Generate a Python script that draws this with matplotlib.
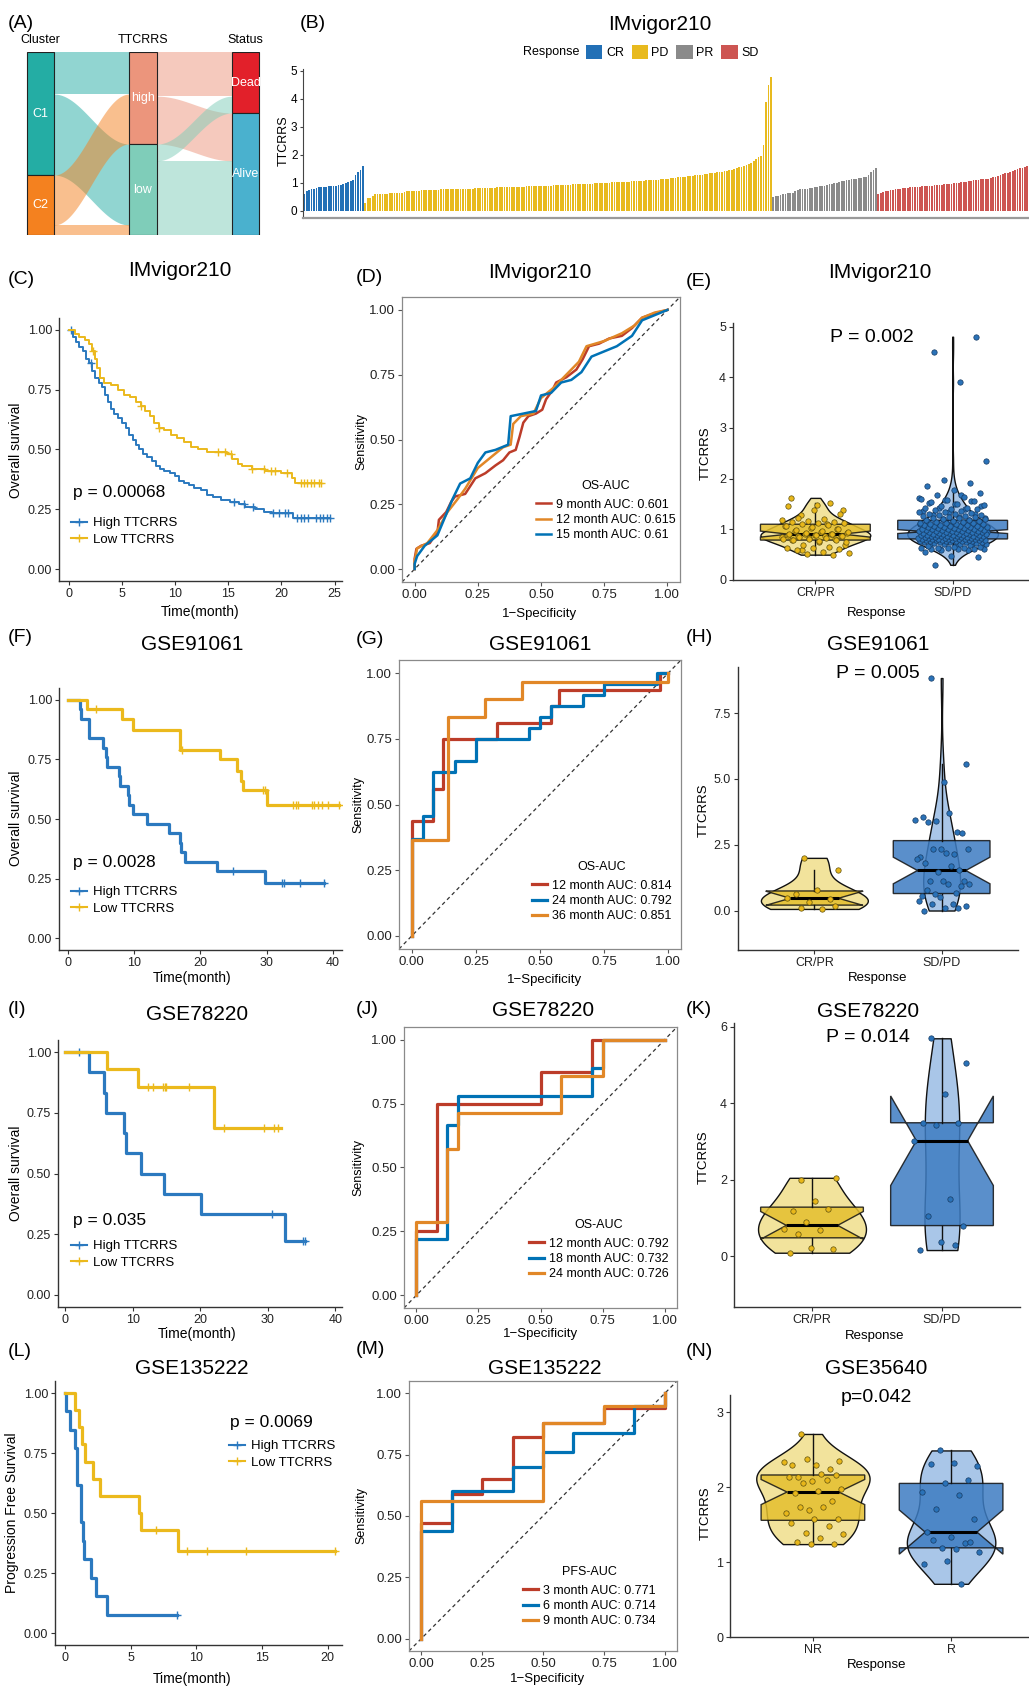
import numpy as np
import matplotlib
matplotlib.use('Agg')
import matplotlib.pyplot as plt
from matplotlib.patches import Patch, Rectangle
from matplotlib.lines import Line2D

plt.rcParams['font.family'] = ['Liberation Sans', 'DejaVu Sans']

# ================= DATA =================
# (A) alluvial: patients per flow
cluster_names = ['C1', 'C2']
risk_names = ['high', 'low']
status_names = ['Dead', 'Alive']
cluster_to_risk = [[80, 154], [95, 19]]     # rows C1, C2 ; cols high, low
risk_to_status = [[84, 91], [32, 141]]      # rows high, low ; cols Dead, Alive

# (B) IMvigor210 TTCRRS per patient, sorted within response group
cr_vals = [0.60, 0.70, 0.74, 0.78, 0.80, 0.82, 0.85, 0.86, 0.86, 0.87, 0.88, 0.89, 0.90,
           0.91, 0.92, 0.94, 0.96, 1.00, 1.03, 1.06, 1.10, 1.28, 1.38, 1.48, 1.62]
pd_vals = [0.30, 0.45, 0.48, 0.55, 0.60, 0.60, 0.61, 0.61, 0.62, 0.62,
           0.63, 0.63, 0.64, 0.64, 0.65, 0.66, 0.68, 0.70, 0.71, 0.72,
           0.72, 0.73, 0.73, 0.74, 0.74, 0.75, 0.75, 0.75, 0.76, 0.76,
           0.76, 0.77, 0.77, 0.77, 0.78, 0.78, 0.78, 0.78, 0.79, 0.79,
           0.79, 0.80, 0.80, 0.80, 0.80, 0.81, 0.81, 0.81, 0.82, 0.82,
           0.82, 0.83, 0.83, 0.83, 0.84, 0.84, 0.84, 0.85, 0.85, 0.85,
           0.86, 0.86, 0.86, 0.87, 0.87, 0.87, 0.88, 0.88, 0.88, 0.89,
           0.89, 0.89, 0.90, 0.90, 0.90, 0.91, 0.91, 0.92, 0.92, 0.92,
           0.93, 0.93, 0.94, 0.94, 0.94, 0.95, 0.95, 0.96, 0.96, 0.97,
           0.97, 0.97, 0.98, 0.98, 0.99, 0.99, 1.00, 1.00, 1.00, 1.01,
           1.01, 1.02, 1.02, 1.03, 1.03, 1.04, 1.04, 1.05, 1.05, 1.06,
           1.06, 1.07, 1.07, 1.08, 1.08, 1.09, 1.10, 1.10, 1.11, 1.12,
           1.12, 1.13, 1.14, 1.15, 1.16, 1.17, 1.18, 1.19, 1.20, 1.21,
           1.22, 1.23, 1.24, 1.25, 1.26, 1.27, 1.28, 1.29, 1.30, 1.31,
           1.32, 1.34, 1.35, 1.37, 1.38, 1.40, 1.41, 1.42, 1.43, 1.45,
           1.47, 1.50, 1.53, 1.56, 1.58, 1.60, 1.63, 1.67, 1.72, 1.78,
           1.85, 1.92, 1.98, 2.35, 3.90, 4.50, 4.80]
pr_vals = [0.50, 0.52, 0.54, 0.56, 0.60, 0.62, 0.63, 0.64, 0.65, 0.70,
           0.75, 0.77, 0.78, 0.79, 0.80, 0.81, 0.82, 0.84, 0.86, 0.88,
           0.90, 0.91, 0.93, 0.95, 0.97, 0.99, 1.01, 1.04, 1.06, 1.08,
           1.10, 1.12, 1.13, 1.14, 1.15, 1.17, 1.19, 1.21, 1.23, 1.30,
           1.38, 1.45, 1.52]
sd_vals = [0.62, 0.66, 0.68, 0.70, 0.72, 0.74, 0.76, 0.78, 0.79, 0.80,
           0.81, 0.82, 0.83, 0.84, 0.85, 0.85, 0.86, 0.87, 0.88, 0.89,
           0.90, 0.90, 0.91, 0.92, 0.93, 0.94, 0.94, 0.95, 0.96, 0.97,
           0.98, 0.99, 1.00, 1.01, 1.02, 1.03, 1.04, 1.06, 1.08, 1.10,
           1.11, 1.12, 1.13, 1.14, 1.15, 1.16, 1.18, 1.20, 1.22, 1.25,
           1.28, 1.31, 1.34, 1.37, 1.40, 1.43, 1.46, 1.49, 1.52, 1.55,
           1.58, 1.62, 1.68]
resp_names = ['CR', 'PD', 'PR', 'SD']
resp_colors = ['#2270B6', '#E8BA1E', '#8A8A8A', '#CD5552']

# (C) IMvigor210 KM  (step times, survival, last follow-up, censor times)
c_high_t = [0, 0.4, 0.7, 1.0, 1.3, 1.6, 1.9, 2.2, 2.5, 2.8, 3.1, 3.4, 3.7, 4.0, 4.3, 4.6, 5.0,
            5.4, 5.7, 6.0, 6.3, 6.6, 7.0, 7.4, 7.8, 8.2, 8.6, 9.0, 9.5, 10.0, 10.4, 10.8,
            11.3, 11.8, 12.4, 13.0, 13.6, 14.3, 15.2, 16.0, 16.6, 17.5, 18.4, 19.1, 21.1]
c_high_s = [1.0, 0.97, 0.95, 0.93, 0.91, 0.88, 0.86, 0.83, 0.80, 0.78, 0.76, 0.73, 0.70, 0.67,
            0.65, 0.63, 0.61, 0.59, 0.56, 0.54, 0.52, 0.50, 0.48, 0.47, 0.45, 0.43, 0.42, 0.41,
            0.40, 0.39, 0.37, 0.36, 0.35, 0.34, 0.33, 0.31, 0.30, 0.29, 0.28, 0.27, 0.26, 0.25,
            0.24, 0.235, 0.215]
c_high_end = 24.6
c_high_cens = [0.2, 2.1, 15.5, 16.5, 17.3, 19.2, 19.8, 20.3, 20.6, 21.5, 21.8, 22.1, 22.5,
               23.3, 23.6, 23.9, 24.3, 24.6]
c_low_t = [0, 0.6, 1.0, 1.5, 1.9, 2.2, 2.5, 2.7, 2.9, 3.3, 4.0, 4.6, 5.2, 5.8, 6.3, 6.8, 7.2,
           7.6, 8.0, 8.5, 9.0, 9.6, 10.2, 10.8, 11.5, 12.2, 13.0, 14.9, 15.4, 15.9, 16.3,
           17.2, 18.5, 20.0, 21.0, 21.3]
c_low_s = [1.0, 0.985, 0.97, 0.96, 0.94, 0.91, 0.88, 0.84, 0.80, 0.78, 0.77, 0.75, 0.73, 0.72,
           0.70, 0.68, 0.66, 0.64, 0.61, 0.59, 0.58, 0.56, 0.55, 0.53, 0.51, 0.50, 0.49, 0.48,
           0.46, 0.44, 0.43, 0.42, 0.41, 0.40, 0.38, 0.36]
c_low_end = 23.7
c_low_cens = [2.3, 6.8, 8.5, 14.0, 14.7, 15.3, 17.2, 18.4, 19.0, 19.4, 20.5, 21.8, 22.1, 22.4,
              22.8, 23.1, 23.5, 23.7]

# (F) GSE91061 KM
f_high_t = [0, 1.8, 1.9, 3.2, 5.3, 5.7, 5.9, 7.7, 7.8, 9.1, 9.2, 9.8, 11.9, 15.3, 16.9, 17.0,
            17.7, 22.5, 29.8]
f_high_s = [1.0, 0.96, 0.92, 0.84, 0.80, 0.76, 0.72, 0.68, 0.64, 0.60, 0.56, 0.52, 0.48, 0.44,
            0.40, 0.36, 0.32, 0.28, 0.233]
f_high_end = 38.7
f_high_cens = [24.9, 32.4, 32.6, 35.1, 38.7]
f_low_t = [0, 2.9, 8.1, 9.8, 16.9, 23.0, 25.5, 26.2, 26.5, 30.0]
f_low_s = [1.0, 0.96, 0.92, 0.875, 0.79, 0.75, 0.70, 0.66, 0.62, 0.56]
f_low_end = 40.9
f_low_cens = [4.2, 17.2, 29.5, 29.8, 34.0, 34.4, 34.8, 36.8, 37.2, 37.7, 38.4, 39.3, 40.9]

# (I) GSE78220 KM
i_high_t = [0, 3.5, 5.8, 6.0, 8.8, 9.0, 11.3, 14.7, 20.1, 32.6]
i_high_s = [1.0, 0.917, 0.833, 0.75, 0.667, 0.583, 0.50, 0.417, 0.333, 0.222]
i_high_end = 35.5
i_high_cens = [2.0, 30.7, 35.3, 35.5]
i_low_t = [0, 6.2, 10.8, 22.1]
i_low_s = [1.0, 0.929, 0.857, 0.686]
i_low_end = 31.9
i_low_cens = [12.3, 13.0, 14.5, 14.8, 15.0, 18.3, 23.6, 29.5, 31.0, 31.6]

# (L) GSE135222 KM (PFS)
l_high_t = [0, 0.1, 0.35, 0.75, 0.9, 0.95, 1.2, 1.37, 1.42, 1.98, 2.4, 3.2]
l_high_s = [1.0, 0.923, 0.846, 0.769, 0.692, 0.615, 0.462, 0.385, 0.308, 0.231, 0.154, 0.077]
l_high_end = 8.5
l_high_cens = [8.5]
l_low_t = [0, 0.75, 1.1, 1.3, 1.5, 2.15, 2.7, 5.6, 5.8, 8.6]
l_low_s = [1.0, 0.929, 0.857, 0.786, 0.714, 0.643, 0.571, 0.50, 0.429, 0.343]
l_low_end = 20.6
l_low_cens = [6.9, 9.3, 10.8, 13.8, 20.6]

# (D) IMvigor210 time-dependent ROC
d_labels = ['9 month AUC: 0.601', '12 month AUC: 0.615', '15 month AUC: 0.61']
d_fpr_9 = [0, 0.0, 0.007, 0.026, 0.06, 0.08, 0.09, 0.096, 0.125, 0.145, 0.16, 0.2, 0.22, 0.24,
           0.28, 0.32, 0.35, 0.375, 0.40, 0.415, 0.43, 0.45, 0.48, 0.505, 0.52, 0.545, 0.56,
           0.60, 0.64, 0.665, 0.69, 0.73, 0.77, 0.82, 0.86, 0.90, 0.95, 1.0]
d_tpr_9 = [0, 0.04, 0.078, 0.09, 0.10, 0.13, 0.14, 0.19, 0.22, 0.26, 0.28, 0.29, 0.32, 0.35,
           0.37, 0.40, 0.42, 0.45, 0.46, 0.51, 0.565, 0.59, 0.60, 0.615, 0.655, 0.69, 0.72,
           0.74, 0.77, 0.81, 0.86, 0.87, 0.89, 0.90, 0.93, 0.97, 0.987, 1.0]
d_fpr_12 = [0, 0.0, 0.01, 0.05, 0.09, 0.13, 0.17, 0.2, 0.25, 0.3, 0.35, 0.38, 0.39, 0.42, 0.47,
            0.5, 0.55, 0.6, 0.65, 0.68, 0.75, 0.82, 0.87, 0.9, 0.95, 1.0]
d_tpr_12 = [0, 0.03, 0.08, 0.10, 0.15, 0.22, 0.27, 0.31, 0.39, 0.43, 0.47, 0.48, 0.56, 0.59,
            0.60, 0.66, 0.70, 0.75, 0.80, 0.86, 0.88, 0.91, 0.94, 0.97, 0.99, 1.0]
d_fpr_15 = [0, 0.0, 0.01, 0.04, 0.09, 0.12, 0.15, 0.18, 0.22, 0.25, 0.28, 0.32, 0.37, 0.38,
            0.43, 0.48, 0.5, 0.54, 0.58, 0.62, 0.66, 0.7, 0.75, 0.8, 0.86, 0.9, 0.95, 1.0]
d_tpr_15 = [0, 0.02, 0.05, 0.09, 0.13, 0.20, 0.27, 0.33, 0.35, 0.41, 0.45, 0.46, 0.48, 0.59,
            0.60, 0.61, 0.67, 0.68, 0.72, 0.73, 0.76, 0.82, 0.84, 0.86, 0.90, 0.96, 0.98, 1.0]

# (G) GSE91061 ROC
g_labels = ['12 month AUC: 0.814', '24 month AUC: 0.792', '36 month AUC: 0.851']
g_fpr_12 = [0, 0, 0.083, 0.083, 0.12, 0.12, 0.333, 0.333, 0.542, 0.542, 0.575, 0.575, 0.967, 0.967, 1]
g_tpr_12 = [0, 0.437, 0.437, 0.56, 0.56, 0.75, 0.75, 0.812, 0.812, 0.875, 0.875, 0.9375, 0.9375, 1.0, 1]
g_fpr_24 = [0, 0, 0.042, 0.042, 0.083, 0.083, 0.167, 0.167, 0.25, 0.25, 0.458, 0.458, 0.5, 0.5,
            0.542, 0.542, 0.667, 0.667, 0.75, 0.75, 0.958, 0.958, 1]
g_tpr_24 = [0, 0.37, 0.37, 0.458, 0.458, 0.625, 0.625, 0.667, 0.667, 0.75, 0.75, 0.79, 0.79,
            0.833, 0.833, 0.875, 0.875, 0.917, 0.917, 0.958, 0.958, 1.0, 1]
g_fpr_36 = [0, 0, 0.143, 0.143, 0.286, 0.286, 0.429, 0.429, 1.0, 1.0]
g_tpr_36 = [0, 0.365, 0.365, 0.833, 0.833, 0.9, 0.9, 0.967, 0.967, 1.0]

# (J) GSE78220 ROC
j_labels = ['12 month AUC: 0.792', '18 month AUC: 0.732', '24 month AUC: 0.726']
j_fpr_12 = [0, 0, 0.083, 0.083, 0.5, 0.5, 0.708, 0.708, 1]
j_tpr_12 = [0, 0.25, 0.25, 0.75, 0.75, 0.875, 0.875, 1.0, 1]
j_fpr_18 = [0, 0, 0.125, 0.125, 0.167, 0.167, 0.708, 0.708, 0.75, 0.75, 1]
j_tpr_18 = [0, 0.222, 0.222, 0.667, 0.667, 0.778, 0.778, 0.889, 0.889, 1.0, 1]
j_fpr_24 = [0, 0, 0.125, 0.125, 0.167, 0.167, 0.583, 0.583, 0.75, 0.75, 1]
j_tpr_24 = [0, 0.286, 0.286, 0.571, 0.571, 0.714, 0.714, 0.857, 0.857, 1.0, 1]

# (M) GSE135222 ROC
m_labels = ['3 month AUC: 0.771', '6 month AUC: 0.714', '9 month AUC: 0.734']
m_fpr_3 = [0, 0, 0.125, 0.125, 0.25, 0.25, 0.375, 0.375, 0.5, 0.5, 0.75, 0.75, 1.0, 1.0]
m_tpr_3 = [0, 0.47, 0.47, 0.59, 0.59, 0.65, 0.65, 0.82, 0.82, 0.88, 0.88, 0.94, 0.94, 1.0]
m_fpr_6 = [0, 0, 0.125, 0.125, 0.375, 0.375, 0.5, 0.5, 0.625, 0.625, 0.875, 0.875, 1.0, 1.0]
m_tpr_6 = [0, 0.44, 0.44, 0.6, 0.6, 0.7, 0.7, 0.76, 0.76, 0.84, 0.84, 0.95, 0.95, 1.0]
m_fpr_9 = [0, 0, 0.5, 0.5, 0.75, 0.75, 1.0, 1.0]
m_tpr_9 = [0, 0.56, 0.56, 0.88, 0.88, 0.95, 0.95, 1.0]

# (H) GSE91061 TTCRRS by response
h_crpr = [2.0, 1.53, 0.78, 0.63, 0.44, 0.34, 0.49, 0.06, 0.10, 0.16]
h_sdpd = [8.83, 5.57, 4.87, 3.57, 3.0, 3.4, 3.44, 3.7, 3.37, 2.96, 2.33, 2.05, 2.13, 2.33, 2.35,
          2.2, 1.8, 1.52, 1.46, 1.95, 1.7, 1.14, 1.11, 1.11, 0.56, 0.68, 0.61, 1.01, 1.01, 0.78,
          0.94, 0.51, 0.38, 0.23, 0.23, 0.18, 0.08, 0.0, 0.08]
# (K) GSE78220
k_crpr = [2.0, 2.05, 1.44, 1.19, 1.23, 0.9, 0.71, 0.68, 0.57, 0.19, 0.21, 0.09]
k_sdpd = [5.7, 5.06, 4.24, 3.49, 3.49, 3.42, 3.02, 1.5, 1.05, 0.8, 0.36, 0.16, 0.3]
# (N) GSE35640
n_nr = [2.71, 2.35, 2.3, 2.3, 2.24, 2.37, 2.34, 2.17, 2.14, 2.16, 2.08, 2.14, 2.09, 2.05, 1.98,
        1.95, 1.92, 1.82, 1.7, 1.66, 1.73, 1.74, 1.58, 1.57, 1.52, 1.48, 1.39, 1.37, 1.32, 1.27,
        1.24, 1.24]
n_r = [2.49, 2.28, 2.32, 2.31, 2.1, 2.05, 1.93, 1.89, 1.71, 1.58, 1.33, 1.40, 1.25, 1.19, 1.13,
       1.17, 1.29, 1.27, 1.01, 0.98, 0.71]

# ================= FIGURE =================
W, H = 1029, 1686
fig = plt.figure(figsize=(W / 100, H / 100), dpi=100)

BLUE = '#2B79BF'
GOLD = '#EBB91C'
RED_ROC, ORG_ROC, BLU_ROC = '#BC3C29', '#E18727', '#0072B5'


def px_axes(l, t, r, b):
    return fig.add_axes([l / W, 1 - b / H, (r - l) / W, (b - t) / H])


def ftext(x, y, s, **kw):
    kw.setdefault('ha', 'center')
    kw.setdefault('va', 'center')
    fig.text(x / W, 1 - y / H, s, **kw)


def classic(ax, labelsize=9):
    for s in ['top', 'right']:
        ax.spines[s].set_visible(False)
    for s in ['left', 'bottom']:
        ax.spines[s].set_color('#333333')
        ax.spines[s].set_linewidth(1.0)
    ax.tick_params(length=3, width=0.8, color='#333333', labelsize=labelsize, pad=2,
                   labelcolor='#222222')


# ---------- (A) alluvial ----------
axA = px_axes(20, 52, 268, 235)
total = sum(map(sum, cluster_to_risk))
axA.set_xlim(20, 268)
axA.set_ylim(total, 0)
axA.axis('off')
col_x = [(27, 54), (129, 157), (232, 259)]
cluster_cols = ['#24ADA4', '#F4811F']
risk_cols = ['#EC957C', '#7FCDB9']
status_cols = ['#E2202A', '#4AB1CE']


def band(ax, x0, x1, a0, a1, b0, b1, color):
    u = np.linspace(0, 1, 80)
    f = (1 - np.cos(np.pi * u)) / 2
    xs = x0 + (x1 - x0) * u
    ax.fill_between(xs, a0 + (b0 - a0) * f, a1 + (b1 - a1) * f, color=color, alpha=0.5, lw=0)


def flows(ax, mat, xa, xb, colors):
    mat = np.array(mat)
    out_off = np.concatenate([[0], np.cumsum(mat.sum(axis=1))[:-1]]).astype(float)
    in_off = np.concatenate([[0], np.cumsum(mat.sum(axis=0))[:-1]]).astype(float)
    for i in range(mat.shape[0]):
        for j in range(mat.shape[1]):
            v = mat[i, j]
            band(ax, xa, xb, out_off[i], out_off[i] + v, in_off[j], in_off[j] + v, colors[i])
            out_off[i] += v
            in_off[j] += v


def nodes(ax, sizes, names, cols, xr):
    y0 = 0
    for v, n, c in zip(sizes, names, cols):
        ax.add_patch(Rectangle((xr[0], y0), xr[1] - xr[0], v, facecolor=c, edgecolor='#222222', lw=0.8))
        ax.text((xr[0] + xr[1]) / 2, y0 + v / 2, n, color='white', ha='center', va='center', fontsize=9)
        y0 += v


flows(axA, cluster_to_risk, col_x[0][1], col_x[1][0], cluster_cols)
flows(axA, risk_to_status, col_x[1][1], col_x[2][0], risk_cols)
nodes(axA, np.sum(cluster_to_risk, axis=1), cluster_names, cluster_cols, col_x[0])
nodes(axA, np.sum(cluster_to_risk, axis=0), risk_names, risk_cols, col_x[1])
nodes(axA, np.sum(risk_to_status, axis=0), status_names, status_cols, col_x[2])
for xr, lab in zip(col_x, ['Cluster', 'TTCRRS', 'Status']):
    ftext((xr[0] + xr[1]) / 2, 40, lab, fontsize=9)

# ---------- (B) waterfall ----------
axB = px_axes(303, 69, 1031, 218)
heights, colors = [], []
for vals, c in zip([cr_vals, pd_vals, pr_vals, sd_vals], resp_colors):
    heights += vals
    colors += [c] * len(vals)
xb = np.arange(1, len(heights) + 1)
axB.bar(xb, heights, width=0.72, color=colors, edgecolor='none')
axB.set_xlim(0.5, len(heights) + 0.5)
axB.set_ylim(-0.25, 5.07)
axB.set_yticks([0, 1, 2, 3, 4, 5])
axB.set_xticks([])
for s in ['top', 'right']:
    axB.spines[s].set_visible(False)
axB.spines['left'].set_color('#444444')
axB.spines['bottom'].set_color('#9A9A9A')
axB.spines['bottom'].set_linewidth(1.6)
axB.tick_params(axis='y', length=2.5, width=0.8, labelsize=8.5, pad=1.5, color='#444444')
ftext(284, 141, 'TTCRRS', rotation=90, fontsize=9)
ftext(660, 25, 'IMvigor210', fontsize=15)
ftext(551, 52, 'Response', fontsize=9)
axB.legend([Patch(facecolor=c, edgecolor='none') for c in resp_colors], resp_names,
           loc='center left', bbox_to_anchor=(586 / W, 1 - 52 / H), bbox_transform=fig.transFigure,
           ncol=4, frameon=False, fontsize=9, handlelength=1.3, handleheight=1.3,
           handletextpad=0.3, columnspacing=0.6, borderpad=0, borderaxespad=0)


# ---------- KM helpers ----------
def km(ax, t, s, tend, cens, color, lw):
    t = np.asarray(t, float)
    s = np.asarray(s, float)
    ax.step(np.append(t, tend), np.append(s, s[-1]), where='post', color=color, lw=lw)
    cens = np.asarray(cens, float)
    idx = np.searchsorted(t, cens, side='right') - 1
    ax.plot(cens, s[idx], '+', color=color, ms=6, mew=1.0, ls='none')


def km_panel(box, curves, xlim, xticks, lw, ylabel, pos_p, ptext, pos_leg, lab_x, lab_y, xl_pos):
    ax = px_axes(*box)
    for t, s, tend, cens, col in curves:
        km(ax, t, s, tend, cens, col, lw)
    ax.set_xlim(*xlim)
    ax.set_ylim(-0.05, 1.05)
    ax.set_xticks(xticks)
    ax.set_yticks([0, 0.25, 0.5, 0.75, 1.0])
    ax.set_yticklabels(['0.00', '0.25', '0.50', '0.75', '1.00'])
    classic(ax, 9)
    ftext(pos_p[0], pos_p[1], ptext, fontsize=12.5, ha='left')
    hand = [Line2D([], [], color=c, marker='+', lw=1.5, ms=6) for c in [BLUE, GOLD]]
    ax.legend(hand, ['High TTCRRS', 'Low TTCRRS'], loc='upper left',
              bbox_to_anchor=(pos_leg[0] / W, 1 - pos_leg[1] / H), bbox_transform=fig.transFigure,
              frameon=False, fontsize=9.5, handlelength=1.2, handletextpad=0.5, labelspacing=0.35,
              borderpad=0, borderaxespad=0)
    ftext(lab_x, lab_y, ylabel, rotation=90, fontsize=10)
    ftext(xl_pos[0], xl_pos[1], 'Time(month)', fontsize=10)
    return ax


# ---------- ROC helpers ----------
def roc_panel(box, curves, colors, labels, title, leg_pos, lab_y, lab_x, lw):
    ax = px_axes(*box)
    ax.plot([-0.05, 1.05], [-0.05, 1.05], ls=(0, (3, 2.5)), color='#333333', lw=0.9)
    for (fpr, tpr), col, lab in zip(curves, colors, labels):
        ax.plot(fpr, tpr, color=col, lw=lw, label=lab)
    ax.set_xlim(-0.05, 1.05)
    ax.set_ylim(-0.05, 1.05)
    tk = [0, 0.25, 0.5, 0.75, 1.0]
    tl = ['0.00', '0.25', '0.50', '0.75', '1.00']
    ax.set_xticks(tk)
    ax.set_xticklabels(tl)
    ax.set_yticks(tk)
    ax.set_yticklabels(tl)
    for s in ax.spines.values():
        s.set_color('#8A8A8A')
        s.set_linewidth(0.9)
    ax.tick_params(length=3, width=0.8, color='#555555', labelsize=9.5, pad=2, labelcolor='#222222')
    leg = ax.legend(title=title, loc='lower left', bbox_to_anchor=(leg_pos[0] / W, 1 - leg_pos[1] / H),
                    bbox_transform=fig.transFigure, frameon=False, fontsize=9, title_fontsize=9,
                    handlelength=1.2, handletextpad=0.4, labelspacing=0.25, borderpad=0,
                    borderaxespad=0)
    leg._legend_box.sep = 5
    ftext(lab_y[0], lab_y[1], 'Sensitivity', rotation=90, fontsize=9)
    ftext(lab_x[0], lab_x[1], '1\u2212Specificity', fontsize=9.5)
    return ax


# ---------- violin helpers ----------
def jitter(n, half):
    return ((np.arange(n) * 0.618034 + 0.31) % 1 - 0.5) * 2 * half


def violin_panel(box, groups, cats, ylim, yticks, vwidths, bwidth, title_pos, title, p_pos, ptext,
                 lab_y, lab_x, jit=0.22):
    ax = px_axes(*box)
    parts = ax.violinplot(groups, positions=[1, 2], widths=vwidths, showextrema=False,
                          bw_method='silverman', points=200)
    for body, c in zip(parts['bodies'], ['#F2E39C', '#A9C6E8']):
        body.set_facecolor(c)
        body.set_edgecolor('#111111')
        body.set_linewidth(1.0)
        body.set_alpha(1)
    bp = ax.boxplot(groups, positions=[1, 2], widths=bwidth, notch=True, patch_artist=True,
                    showfliers=False, showcaps=False,
                    medianprops=dict(color='black', lw=2.2),
                    whiskerprops=dict(color='#111111', lw=1.0),
                    boxprops=dict(edgecolor='#111111', lw=1.0))
    for patch, c in zip(bp['boxes'], ['#E4BF2E', '#3D7CC2']):
        patch.set_facecolor(c)
        patch.set_alpha(0.85)
        patch.set_edgecolor('#111111')
    for k, (vals, fc, ec) in enumerate(zip(groups, ['#E8B71A', '#2A72B8'], ['#5E500E', '#173B63'])):
        vals = np.asarray(vals)
        ax.scatter(k + 1 + jitter(len(vals), jit), vals, s=15, facecolor=fc, edgecolor=ec,
                   linewidth=0.5, zorder=5)
    ax.set_xlim(0.4, 2.6)
    ax.set_ylim(*ylim)
    ax.set_xticks([1, 2])
    ax.set_xticklabels(cats)
    ax.set_yticks(yticks)
    classic(ax, 9)
    ftext(title_pos[0], title_pos[1], title, fontsize=15)
    ftext(p_pos[0], p_pos[1], ptext, fontsize=14)
    ftext(lab_y[0], lab_y[1], 'TTCRRS', rotation=90, fontsize=9.5)
    ftext(lab_x[0], lab_x[1], 'Response', fontsize=9.5)
    return ax


# ---------- row 1 ----------
km_panel((59, 318, 342, 581),
         [(c_high_t, c_high_s, c_high_end, c_high_cens, BLUE),
          (c_low_t, c_low_s, c_low_end, c_low_cens, GOLD)],
         (-0.92, 25.7), [0, 5, 10, 15, 20, 25], 1.4, 'Overall survival',
         (73, 493), 'p = 0.00068', (71, 517), 16, 450, (200, 612))
ftext(180, 270, 'IMvigor210', fontsize=15)

roc_panel((402, 297, 680, 582), [(d_fpr_9, d_tpr_9), (d_fpr_12, d_tpr_12), (d_fpr_15, d_tpr_15)],
          [RED_ROC, ORG_ROC, BLU_ROC], d_labels, 'OS-AUC', (536, 541), (361, 442), (540, 614), 1.8)
ftext(540, 272, 'IMvigor210', fontsize=15)

violin_panel((733, 323, 1035, 580), [cr_vals + pr_vals, sd_vals + pd_vals], ['CR/PR', 'SD/PD'],
             (0, 5.07), [0, 1, 2, 3, 4, 5], [0.8, 0.66], 0.8, (880, 272), 'IMvigor210',
             (872, 338), 'P = 0.002', (706, 453), (877, 613), jit=0.25)

# ---------- row 2 ----------
km_panel((59, 688, 342, 950),
         [(f_high_t, f_high_s, f_high_end, f_high_cens, BLUE),
          (f_low_t, f_low_s, f_low_end, f_low_cens, GOLD)],
         (-1.36, 41.4), [0, 10, 20, 30, 40], 2.3, 'Overall survival',
         (73, 863), 'p = 0.0028', (71, 886), 16, 818, (192, 978))
ftext(192, 645, 'GSE91061', fontsize=15)

roc_panel((399, 660, 681, 949), [(g_fpr_12, g_tpr_12), (g_fpr_24, g_tpr_24), (g_fpr_36, g_tpr_36)],
          [RED_ROC, BLU_ROC, ORG_ROC], g_labels, 'OS-AUC', (532, 922), (358, 805), (545, 980), 2.3)
ftext(540, 645, 'GSE91061', fontsize=15)

violin_panel((738, 667, 1018, 950), [h_crpr, h_sdpd], ['CR/PR', 'SD/PD'],
             (-1.5, 9.25), [0, 2.5, 5, 7.5], [0.84, 0.29], 0.76, (878, 645), 'GSE91061',
             (878, 673), 'P = 0.005', (704, 810), (878, 978))

# ---------- row 3 ----------
km_panel((58, 1040, 342, 1307),
         [(i_high_t, i_high_s, i_high_end, i_high_cens, BLUE),
          (i_low_t, i_low_s, i_low_end, i_low_cens, GOLD)],
         (-1.04, 41.0), [0, 10, 20, 30, 40], 2.3, 'Overall survival',
         (73, 1220), 'p = 0.035', (71, 1240), 16, 1173, (197, 1334))
ftext(197, 1015, 'GSE78220', fontsize=15)

roc_panel((404, 1027, 677, 1308), [(j_fpr_12, j_tpr_12), (j_fpr_18, j_tpr_18), (j_fpr_24, j_tpr_24)],
          [RED_ROC, BLU_ROC, ORG_ROC], j_labels, 'OS-AUC', (529, 1280), (358, 1167), (541, 1334), 2.3)
ftext(543, 1011, 'GSE78220', fontsize=15)

violin_panel((734, 1023, 1020, 1307), [k_crpr, k_sdpd], ['CR/PR', 'SD/PD'],
             (-1.33, 6.1), [0, 2, 4, 6], [0.83, 0.27], 0.79, (868, 1012), 'GSE78220',
             (868, 1038), 'P = 0.014', (704, 1157), (875, 1336))

# ---------- row 4 ----------
km_panel((55, 1381, 342, 1645),
         [(l_high_t, l_high_s, l_high_end, l_high_cens, BLUE),
          (l_low_t, l_low_s, l_low_end, l_low_cens, GOLD)],
         (-0.76, 21.1), [0, 5, 10, 15, 20], 2.3, 'Progression Free Survival',
         (230, 1422), 'p = 0.0069', (229, 1440), 12, 1513, (192, 1679))
ftext(192, 1368, 'GSE135222', fontsize=15)

roc_panel((409, 1381, 677, 1651), [(m_fpr_3, m_tpr_3), (m_fpr_6, m_tpr_6), (m_fpr_9, m_tpr_9)],
          [RED_ROC, BLU_ROC, ORG_ROC], m_labels, 'PFS-AUC', (523, 1627), (361, 1516), (548, 1679), 2.3)
ftext(545, 1368, 'GSE135222', fontsize=15)

violin_panel((730, 1395, 1034, 1637), [n_nr, n_r], ['NR', 'R'],
             (0, 3.23), [0, 1, 2, 3], [0.82, 0.64], 0.75, (876, 1368), 'GSE35640',
             (876, 1397), 'p=0.042', (706, 1513), (877, 1665))

# ---------- panel letters ----------
letters = [('(A)', 8, 24), ('(B)', 300, 24), ('(C)', 8, 279), ('(D)', 356, 278), ('(E)', 686, 282),
           ('(F)', 8, 638), ('(G)', 356, 639), ('(H)', 686, 638), ('(I)', 8, 1010), ('(J)', 356, 1010),
           ('(K)', 686, 1009), ('(L)', 8, 1352), ('(M)', 356, 1349), ('(N)', 686, 1352)]
for s, x, y in letters:
    ftext(x, y, s, fontsize=14, ha='left')

fig.savefig('out.png', dpi=100)
